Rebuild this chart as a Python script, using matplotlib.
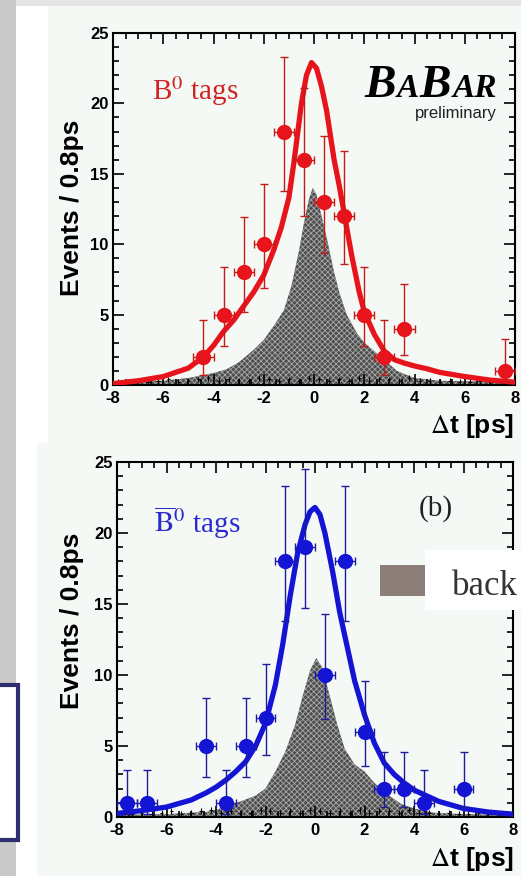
import matplotlib
matplotlib.use("Agg")
import matplotlib.pyplot as plt
from matplotlib.patches import Rectangle
from matplotlib.ticker import MultipleLocator

W, H = 521, 876

# ---- panel (a): B0 tags ----
a_x = [-4.4, -3.6, -2.8, -2.0, -1.2, -0.4, 0.4, 1.2, 2.0, 2.8, 3.6, 7.6]
a_y = [2, 5, 8, 10, 18, 16, 13, 12, 5, 2, 4, 1]
a_lo = [1.3, 2.2, 2.8, 3.1, 4.2, 4.0, 3.6, 3.4, 2.2, 1.3, 1.9, 0.8]
a_hi = [2.6, 3.4, 3.9, 4.3, 5.3, 5.1, 4.7, 4.6, 3.4, 2.6, 3.2, 2.3]
a_fit_x = [-8, -7, -6, -5, -4.4, -4, -3.6, -3.2, -2.8, -2.4, -2, -1.6, -1.3, -1.0, -0.8,
           -0.5, -0.3, -0.1, 0.1, 0.3, 0.5, 0.8, 1.0, 1.2, 1.5, 1.8, 2.0, 2.4, 2.8, 3.2,
           3.6, 4.0, 4.5, 5, 6, 7, 8]
a_fit_y = [0.1, 0.3, 0.6, 1.2, 2.0, 2.8, 3.8, 4.6, 5.6, 6.6, 7.8, 9.6, 11.2, 13.3, 15.8,
           20.0, 22.0, 22.9, 22.5, 21.2, 19.5, 16.0, 14.2, 12.2, 9.2, 6.6, 5.2, 3.6, 2.4, 1.8,
           1.55, 1.35, 1.15, 0.9, 0.6, 0.35, 0.2]
a_bkg_x = [-8, -6, -5, -4.4, -4, -3.5, -3, -2.4, -2, -1.6, -1.2, -0.9, -0.6, -0.4, -0.2,
           -0.05, 0.1, 0.3, 0.5, 0.8, 1.0, 1.3, 1.7, 2.0, 2.4, 2.8, 3.3, 3.7, 4.0, 5.0, 8]
a_bkg_y = [0.2, 0.3, 0.5, 0.7, 0.85, 1.1, 1.6, 2.5, 3.2, 4.2, 5.3, 7.0, 9.5, 11.5, 13.2,
           14.0, 13.5, 12.0, 10.5, 8.0, 6.6, 5.0, 3.7, 3.0, 2.4, 1.8, 1.0, 0.7, 0.5, 0.3, 0.2]

# ---- panel (b): B0bar tags ----
b_x = [-7.6, -6.8, -4.4, -3.6, -2.8, -2.0, -1.2, -0.4, 0.4, 1.2, 2.0, 2.8, 3.6, 4.4, 6.0]
b_y = [1, 1, 5, 1, 5, 7, 18, 19, 10, 18, 6, 2, 2, 1, 2]
b_lo = [0.8, 0.8, 2.2, 0.8, 2.2, 2.6, 4.2, 4.3, 3.1, 4.2, 2.4, 1.3, 1.3, 0.8, 1.3]
b_hi = [2.3, 2.3, 3.4, 2.3, 3.4, 3.8, 5.3, 5.5, 4.3, 5.3, 3.6, 2.6, 2.6, 2.3, 2.6]
b_fit_x = [-8, -7, -6, -5, -4.4, -4, -3.6, -3.2, -2.8, -2.4, -2, -1.6, -1.3, -1.0, -0.7,
           -0.4, -0.2, 0.0, 0.2, 0.4, 0.7, 1.0, 1.3, 1.6, 2.0, 2.4, 2.8, 3.2, 3.6, 4.0,
           4.5, 5, 6, 7, 8]
b_fit_y = [0.25, 0.45, 0.7, 1.2, 1.7, 2.1, 2.6, 3.2, 3.9, 5.0, 6.6, 9.3, 12.2, 15.6, 18.6,
           20.6, 21.5, 21.8, 21.3, 20.0, 17.4, 14.4, 12.0, 9.6, 7.2, 5.2, 3.8, 3.0, 2.4, 1.9,
           1.5, 1.1, 0.6, 0.35, 0.2]
b_bkg_x = [-8, -6, -5, -4.4, -4, -3.5, -3, -2.4, -2, -1.6, -1.2, -0.8, -0.5, -0.2, 0.05,
           0.3, 0.6, 0.9, 1.2, 1.6, 2.0, 2.4, 3.0, 3.5, 4.0, 4.8, 6, 8]
b_bkg_y = [0.15, 0.2, 0.3, 0.35, 0.5, 0.8, 1.1, 1.5, 2.0, 3.2, 4.6, 6.5, 8.5, 10.3, 11.2,
           10.5, 8.5, 6.5, 4.8, 3.7, 3.2, 2.4, 1.5, 0.9, 0.6, 0.3, 0.2, 0.15]

# small background-sample crosses along the baseline
cross_x = [-7.8, -7.4, -7.0, -6.6, -6.2, -5.8, -5.4, -5.0, -4.6, -4.2, -3.8, -3.4, -3.0,
           -2.6, -2.2, -1.8, -1.4, -1.0, -0.6, -0.2, 0.2, 0.6, 1.0, 1.4, 1.8, 2.2, 2.6,
           3.0, 3.4, 3.8, 4.2, 4.6, 5.0, 5.4, 5.8, 6.2, 6.6, 7.0, 7.4, 7.8]
cross_y = [0.2, 0.2, 0.3, 0.2, 0.3, 0.4, 0.2, 0.3, 0.4, 0.5, 0.3, 0.4, 0.3, 0.3, 0.5,
           0.4, 0.3, 0.4, 0.3, 0.5, 0.4, 0.3, 0.4, 0.3, 0.5, 0.3, 0.4, 0.4, 0.3, 0.5,
           0.3, 0.3, 0.2, 0.3, 0.2, 0.2, 0.3, 0.2, 0.2, 0.2]

plt.rcParams['font.family'] = 'Liberation Sans'
plt.rcParams['mathtext.fontset'] = 'stix'
plt.rcParams['axes.unicode_minus'] = False
plt.rcParams['hatch.linewidth'] = 0.6

fig = plt.figure(figsize=(W / 100, H / 100), dpi=100)
fig.patch.set_facecolor('white')


def fx(x):
    return x / W


def fy(y):
    return 1 - y / H


def box(x0, y0, x1, y1, z=-5, **kw):
    r = Rectangle((fx(x0), fy(y1)), (x1 - x0) / W, (y1 - y0) / H,
                  transform=fig.transFigure, zorder=z, **kw)
    fig.patches.append(r)


# slide background pieces
box(48, 6, 521, 443, fc='#f5f9f5', ec='none')
box(37, 443, 521, 876, fc='#f5f9f5', ec='none')
box(0, 0, 521, 6, fc='#e4e4e4', ec='none')
box(0, 0, 16, 876, fc='#c9c9c9', ec='none')
box(-10, 685, 18, 840, fc='white', ec='#2f2f6e', lw=3, z=-4)


def panel(rect, px, py, lo, hi, fitx, fity, bx, by, col, ecol):
    ax = fig.add_axes(rect)
    ax.set_facecolor('none')
    ax.fill_between(bx, by, 0, facecolor='#4e4e4e', hatch='xxxxxx',
                    edgecolor='#a8a8a8', linewidth=0, zorder=1)
    ax.errorbar(cross_x, cross_y, xerr=0.07, yerr=0.2, fmt='none', ecolor='black',
                elinewidth=0.8, zorder=2)
    ax.plot(fitx, fity, color=col, lw=3.8, zorder=3, solid_joinstyle='round')
    ax.errorbar(px, py, xerr=0.4, yerr=[lo, hi], fmt='o', ms=10, color=col,
                ecolor=ecol, elinewidth=1.0, capsize=3, capthick=1.0, zorder=4)
    ax.set_xlim(-8, 8)
    ax.set_ylim(0, 25)
    ax.xaxis.set_major_locator(MultipleLocator(2))
    ax.xaxis.set_minor_locator(MultipleLocator(0.5))
    ax.yaxis.set_major_locator(MultipleLocator(5))
    ax.yaxis.set_minor_locator(MultipleLocator(1))
    ax.tick_params(which='both', direction='in', top=True, right=True, width=1.2,
                   labelsize=12)
    ax.tick_params(axis='x', pad=4)
    ax.tick_params(axis='y', pad=3)
    ax.tick_params(which='major', length=8)
    ax.tick_params(which='minor', length=4)
    for lab in ax.get_xticklabels() + ax.get_yticklabels():
        lab.set_fontweight('bold')
    for s in ax.spines.values():
        s.set_linewidth(1.5)
    return ax


ax1 = panel([113 / W, 1 - 385 / H, 402 / W, 352 / H], a_x, a_y, a_lo, a_hi,
            a_fit_x, a_fit_y, a_bkg_x, a_bkg_y, '#e8141c', '#c41a1a')
ax2 = panel([117 / W, 1 - 817 / H, 396 / W, 355 / H], b_x, b_y, b_lo, b_hi,
            b_fit_x, b_fit_y, b_bkg_x, b_bkg_y, '#1414d4', '#1c1c9c')

# axis titles
for yc in (208, 621):
    fig.text(fx(72), fy(yc), 'Events / 0.8ps', rotation=90, ha='center', va='center',
             fontsize=19, fontweight='bold')
for yb in (433, 866):
    fig.text(fx(514), fy(yb), r'$\Delta$t [ps]', ha='right', va='baseline',
             fontsize=19, fontweight='bold')

# tag labels
fig.text(fx(152), fy(100), r'B$^{0}$ tags', color='#d02424', fontsize=21,
         family='Liberation Serif', va='baseline')
fig.text(fx(154), fy(533), r'$\overline{\mathrm{B}}^{0}$ tags', color='#2a2ad0', fontsize=21,
         family='Liberation Serif', va='baseline')
fig.text(fx(419), fy(516), '(b)', fontsize=21, family='Liberation Serif',
         va='baseline', color='#222222')

# BaBar logo
renderer = fig.canvas.get_renderer()
xpos = fx(364)
for part, size in (('B', 34), ('A', 24), ('B', 34), ('AR', 24)):
    t = fig.text(xpos, fy(97), part, fontsize=size, family='Liberation Serif',
                 style='italic', fontweight='bold', va='baseline')
    bb = t.get_window_extent(renderer)
    xpos = bb.x1 / W + 0.002
fig.text(fx(497), fy(118), 'preliminary', fontsize=12, ha='right', va='baseline',
         color='#222222')

# partial legend at right of panel (b)
box(425, 550, 530, 610, fc='white', ec='none', z=6)
box(380, 565, 425, 596, fc='#8c7f7a', ec='none', z=6)
fig.text(fx(452), fy(595), 'back', fontsize=25, family='Liberation Serif',
         va='baseline', color='#333333', zorder=7)

fig.savefig('out.png', dpi=100)
